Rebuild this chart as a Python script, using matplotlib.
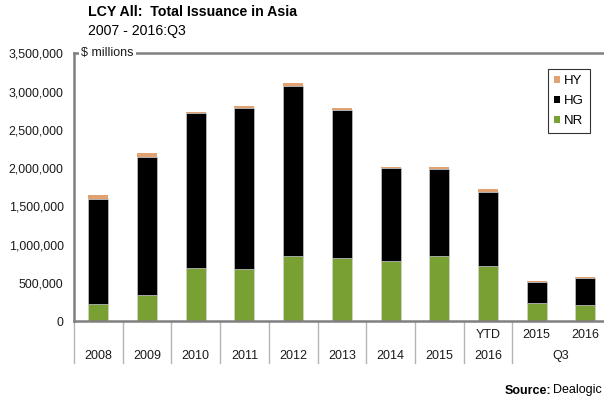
import matplotlib
matplotlib.use("Agg")
import matplotlib.pyplot as plt
from matplotlib.ticker import FuncFormatter
from matplotlib.patches import Patch
import matplotlib.transforms as mtransforms
import numpy as np

plt.rcParams['font.family'] = ['Liberation Sans', 'DejaVu Sans']

# Data (in $ millions)
top_labels = ["", "", "", "", "", "", "", "", "YTD", "2015", "2016"]
bottom_labels = ["2008", "2009", "2010", "2011", "2012", "2013", "2014", "2015", "2016", "", ""]
group_label = "Q3"
nr = [218000, 335000, 696000, 679000, 849000, 823000, 784000, 853000, 718000, 231000, 205000]
hg = [1371000, 1811000, 2020000, 2112000, 2224000, 1937000, 1216000, 1136000, 971000, 278000, 357000]
hy = [56000, 44000, 18000, 26000, 44000, 22000, 15000, 18000, 31000, 17000, 17000]

c_nr = "#78a032"
c_hg = "#000000"
c_hy = "#e0a272"
grey = "#808080"

W, H = 604, 403
fig = plt.figure(figsize=(W / 100, H / 100), dpi=100)
ax_l, ax_r, ax_b, ax_t = 74, 604, 321, 53.3
ax = fig.add_axes([ax_l / W, (H - ax_b) / H, (ax_r - ax_l) / W, (ax_b - ax_t) / H])

x = np.arange(len(nr))
nr_a = np.array(nr); hg_a = np.array(hg); hy_a = np.array(hy)
bw = 0.41
ec = "#d6d6d6"
ax.bar(x, nr_a, width=bw, color=c_nr, edgecolor=ec, linewidth=0.4, zorder=2)
ax.bar(x, hg_a, width=bw, bottom=nr_a, color=c_hg, edgecolor=ec, linewidth=0.4, zorder=2)
ax.bar(x, hy_a, width=bw, bottom=nr_a + hg_a, color=c_hy, edgecolor='none', linewidth=0, zorder=2)

cat_w = 48.7
ax.set_xlim(-0.5, -0.5 + (ax_r - ax_l) / cat_w)
ax.set_ylim(0, 3500000)
ax.set_yticks(np.arange(0, 3500001, 500000))
ax.yaxis.set_major_formatter(FuncFormatter(lambda v, p: f"{int(v):,}"))
ax.tick_params(axis='y', length=0, pad=7.5, labelsize=8.9, labelcolor="#1a1a1a")
ax.set_xticks([])

for s in ['left', 'bottom', 'top']:
    ax.spines[s].set_color(grey)
    ax.spines[s].set_linewidth(1.8)
ax.spines['right'].set_visible(False)

ax.text(0.013, 1.0, "$ millions", transform=ax.transAxes, ha='left', va='center',
        fontsize=9, color="#1a1a1a",
        bbox=dict(facecolor='white', edgecolor='none', pad=1.5), zorder=5)

# Category separators below axis
trans = mtransforms.blended_transform_factory(ax.transData, ax.transAxes)
sep_len = (363.3 - ax_b) / (ax_b - ax_t)
for b in np.arange(-0.5, 9.0, 1.0):
    ax.plot([b, b], [0, -sep_len], transform=trans, color="#b4b4b4", lw=1.0, clip_on=False)

y_top_row = -(335 - ax_b) / (ax_b - ax_t)
y_bot_row = -(356 - ax_b) / (ax_b - ax_t)
for i in range(len(nr)):
    if top_labels[i]:
        ax.text(x[i], y_top_row, top_labels[i], transform=trans, ha='center', va='center',
                fontsize=9, color="#1a1a1a")
    if bottom_labels[i]:
        ax.text(x[i], y_bot_row, bottom_labels[i], transform=trans, ha='center', va='center',
                fontsize=9, color="#1a1a1a")
ax.text((x[9] + x[10]) / 2, y_bot_row, group_label, transform=trans, ha='center', va='center',
        fontsize=9, color="#1a1a1a")

# Legend
handles = [Patch(facecolor=c_hy, edgecolor='none'), Patch(facecolor=c_hg, edgecolor='none'),
           Patch(facecolor=c_nr, edgecolor='none')]
leg = fig.legend(handles, ["HY", "HG", "NR"], loc='upper left',
                 bbox_to_anchor=(547.7 / W, 1 - 69.3 / H), frameon=True, fancybox=False,
                 fontsize=9.5, handlelength=0.45, handleheight=0.45, handletextpad=0.35,
                 labelspacing=0.6, borderpad=0.45, borderaxespad=0)
leg.get_frame().set_edgecolor("#000000")
leg.get_frame().set_linewidth(0.8)

# Titles
fig.text(87.5 / W, 1 - 12 / H, "LCY All:  Total Issuance in Asia", ha='left', va='center',
         fontsize=10.2, fontweight='bold', color="#000000")
fig.text(87.5 / W, 1 - 31.5 / H, "2007 - 2016:Q3", ha='left', va='center',
         fontsize=10.2, color="#000000")

# Source
dealogic = fig.text(601.5 / W, 1 - 390.5 / H, "Dealogic", ha='right', va='center',
                    fontsize=9, color="#000000")
src = fig.text(0, 0, "Source:", fontsize=9, fontweight='bold')
fig.canvas.draw()
r = fig.canvas.get_renderer()
w_deal = dealogic.get_window_extent(r).width
src.set_position(((601.5 - w_deal - 1) / W, 1 - 390.5 / H))
src.set_ha('right'); src.set_va('center')

fig.savefig("out.png", dpi=100)
